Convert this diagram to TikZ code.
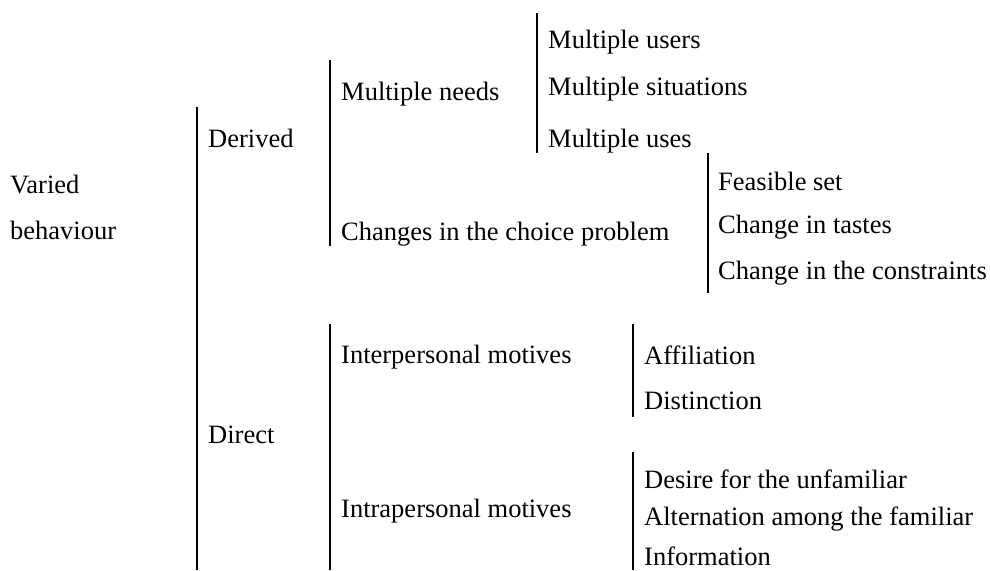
\documentclass[tikz,border=0pt]{standalone}
\usepackage{fontspec}
\setmainfont{Liberation Serif}
\begin{document}
\begin{tikzpicture}[x=1pt,y=-1pt,
  lbl/.style={anchor=base west,inner sep=0pt,font=\fontsize{26.5}{30}\selectfont},
  brace/.style={line width=2.4pt,black}]
\useasboundingbox (0,0) rectangle (990,570);

% bracket bars
\coordinate (b1t) at (197,107); \coordinate (b1b) at (197,570);
\coordinate (b2t) at (330,60);  \coordinate (b2b) at (330,246);
\coordinate (b3t) at (330,324); \coordinate (b3b) at (330,570);
\coordinate (b4t) at (537,13);  \coordinate (b4b) at (537,153);
\coordinate (b5t) at (708,153); \coordinate (b5b) at (708,293);
\coordinate (b6t) at (633,324); \coordinate (b6b) at (633,417);
\coordinate (b7t) at (633,452); \coordinate (b7b) at (633,570);
\foreach \b in {1,...,7} \draw[brace] (b\b t) -- (b\b b);

% root
\node[lbl] (varied) at (10,193) {Varied};
\node[lbl] (behav)  at (10,239) {behaviour};

% first level
\node[lbl] (derived) at (208,147) {Derived};
\node[lbl] (direct)  at (208,443) {Direct};

% second level
\node[lbl] (needs)  at (341,100) {Multiple needs};
\node[lbl] (choice) at (341,240) {Changes in the choice problem};
\node[lbl] (inter)  at (341,363) {Interpersonal motives};
\node[lbl] (intra)  at (341,517) {Intrapersonal motives};

% third level
\node[lbl] (users) at (548,48)  {Multiple users};
\node[lbl] (sit)   at (548,95)  {Multiple situations};
\node[lbl] (uses)  at (548,147) {Multiple uses};

\node[lbl] (feas)   at (718,190) {Feasible set};
\node[lbl] (tastes) at (718,233) {Change in tastes};
\node[lbl] (constr) at (718,279) {Change in the constraints};

\node[lbl] (affil) at (644,364) {Affiliation};
\node[lbl] (dist)  at (644,409) {Distinction};

\node[lbl] (desire) at (644,488) {Desire for the unfamiliar};
\node[lbl] (alt)    at (644,525) {Alternation among the familiar};
\node[lbl] (info)   at (644,565) {Information};
\end{tikzpicture}
\end{document}
